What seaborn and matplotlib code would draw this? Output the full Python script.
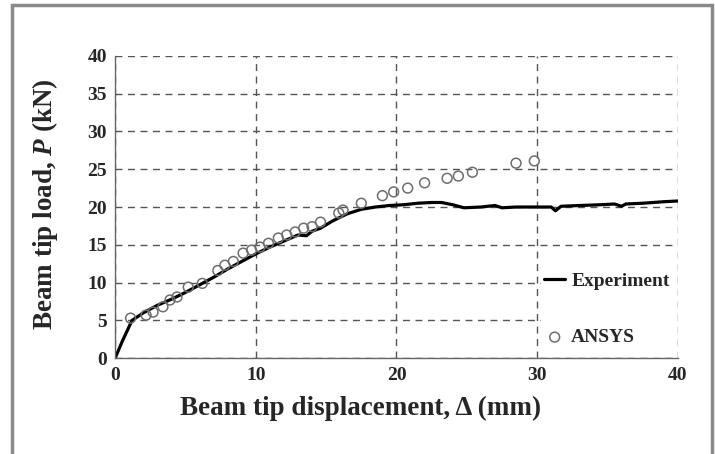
import numpy as np
import pandas as pd
import matplotlib
matplotlib.use('Agg')
import matplotlib.pyplot as plt
import seaborn as sns
from matplotlib.patches import Rectangle

# Experiment curve (beam tip displacement mm, load kN)
exp_disp = [0, 0.5, 1.2, 2, 3, 4, 5, 6, 7, 8, 9, 10, 11, 12, 13, 13.6, 14, 14.6,
            15.5, 16.5, 17.5, 18.5, 19.5, 20.5, 21.5, 22.5, 23.2, 24, 24.8, 26,
            27, 27.5, 28.5, 30, 31, 31.3, 31.7, 33, 34.5, 35.5, 36, 36.3, 37.5, 39, 40]
exp_load = [0, 2.2, 5.0, 6.0, 7.0, 7.8, 8.7, 9.7, 10.7, 11.8, 12.8, 13.8, 14.7, 15.5,
            16.3, 16.2, 16.8, 17.2, 18.2, 19.1, 19.7, 20.0, 20.2, 20.3, 20.5, 20.6,
            20.6, 20.3, 19.9, 20.0, 20.2, 19.9, 20.0, 20.0, 20.0, 19.5, 20.1, 20.2,
            20.3, 20.4, 20.1, 20.4, 20.5, 20.7, 20.8]

# ANSYS results
ansys_disp = [1.1, 2.2, 2.7, 3.4, 3.9, 4.4, 5.2, 6.2, 7.3, 7.8, 8.4, 9.1, 9.7, 10.3,
              10.9, 11.6, 12.2, 12.8, 13.4, 14.0, 14.6, 15.9, 16.2, 17.5, 19.0, 19.8,
              20.8, 22.0, 23.6, 24.4, 25.4, 28.5, 29.8]
ansys_load = [5.3, 5.7, 6.1, 6.8, 7.7, 8.1, 9.4, 9.9, 11.6, 12.3, 12.8, 13.9, 14.3, 14.7,
              15.2, 15.9, 16.3, 16.7, 17.2, 17.4, 18.0, 19.2, 19.6, 20.5, 21.5, 22.0,
              22.5, 23.2, 23.8, 24.1, 24.6, 25.8, 26.1]

exp_df = pd.DataFrame({'disp': exp_disp, 'load': exp_load})
ansys_df = pd.DataFrame({'disp': ansys_disp, 'load': ansys_load})

sns.set_style('white')
plt.rcParams['font.family'] = ['Liberation Serif', 'DejaVu Serif']
plt.rcParams['font.weight'] = 'bold'
plt.rcParams['mathtext.fontset'] = 'custom'
plt.rcParams['mathtext.it'] = 'Liberation Serif:italic:bold'
plt.rcParams['mathtext.rm'] = 'Liberation Serif:bold'

fig = plt.figure(figsize=(7.15, 4.54), dpi=100)
ax = fig.add_axes([0.161, 0.211, 0.787, 0.666])

sns.lineplot(data=exp_df, x='disp', y='load', ax=ax, color='black', lw=2.3,
             label='Experiment', sort=False)
sns.scatterplot(data=ansys_df, x='disp', y='load', ax=ax, marker='o', s=50,
                facecolor='none', edgecolor='#6e6e6e', linewidth=1.1,
                label='ANSYS', zorder=3)

ax.set_xlim(0, 40)
ax.set_ylim(0, 40)
ax.set_xticks([0, 10, 20, 30, 40])
ax.set_yticks(range(0, 41, 5))
ax.grid(True, linestyle=(0, (5, 4)), color='#555555', lw=1.0)
ax.set_axisbelow(True)
for s in ['top', 'right']:
    ax.spines[s].set_visible(False)
for s in ['left', 'bottom']:
    ax.spines[s].set_color('#666666')
    ax.spines[s].set_linewidth(1.0)
ax.tick_params(direction='inout', length=6, width=1, color='#666666',
               labelsize=14, pad=3)
for lab in ax.get_xticklabels() + ax.get_yticklabels():
    lab.set_fontweight('bold')

ax.set_xlabel('Beam tip displacement, Δ (mm)', fontsize=19.5, fontweight='bold')
ax.set_ylabel('Beam tip load, $P$ (kN)', fontsize=19.5, fontweight='bold')
ax.xaxis.set_label_coords(0.437, -0.166)
ax.xaxis.label.set_va('center')
ax.yaxis.set_label_coords(-0.124, 0.51)
ax.yaxis.label.set_va('center')

leg = ax.legend(loc='lower left', bbox_to_anchor=(0.757, 0.03), frameon=True,
                fontsize=14, handlelength=1.1, labelspacing=2.0,
                borderpad=0.15, handletextpad=0.3, borderaxespad=0)
leg.get_frame().set_facecolor('white')
leg.get_frame().set_edgecolor('none')
leg.get_frame().set_alpha(1)
for t in leg.get_texts():
    t.set_fontweight('bold')

fig.patches.append(Rectangle((0.017, -0.05), 0.979, 1.039, transform=fig.transFigure,
                             fill=False, edgecolor='#8a8a8a', lw=2.5))

fig.savefig('out.png', dpi=100)
